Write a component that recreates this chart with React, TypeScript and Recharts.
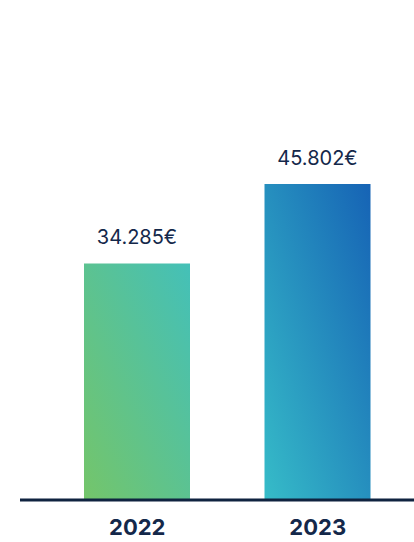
import React from "react";
import { BarChart, Bar, XAxis, YAxis, Cell, LabelList } from "recharts";

const years = ["2022", "2023"];
const values = [34285, 45802];
const valueLabels = ["34.285€", "45.802€"];
const gradients = [
  ["#74c56a", "#44c0b8"],
  ["#36bcc8", "#1663b5"],
];

const data = years.map((y, i) => ({ year: y, value: values[i], label: valueLabels[i] }));

const NAVY = "#14284a";

const YearTick = (props: any) => {
  const { x, y, payload } = props;
  return (
    <text x={x} y={y + 27} textAnchor="middle" fill={NAVY} fontFamily="Inter, 'Noto Sans', sans-serif" fontWeight={700} fontSize={22}>
      {payload.value}
    </text>
  );
};

const ValueLabel = (props: any) => {
  const { x, y, width, index } = props;
  return (
    <text x={x + width / 2} y={y - 19} textAnchor="middle" fill={NAVY} fontFamily="Inter, 'Noto Sans', sans-serif" fontWeight={400} fontSize={20}>
      {valueLabels[index]}
    </text>
  );
};

export default function App() {
  return (
    <div style={{ position: "absolute", left: 0, top: 0, width: 414, height: 542, background: "#fff" }}>
      <BarChart width={414} height={542} data={data} margin={{ top: 86, right: 0, bottom: 0, left: 20 }}>
        <defs>
          {gradients.map((g, i) => (
            <linearGradient key={i} id={`grad${i}`} x1="0" y1="1" x2="1" y2="0">
              <stop offset="0%" stopColor={g[0]} />
              <stop offset="100%" stopColor={g[1]} />
            </linearGradient>
          ))}
        </defs>
        <YAxis hide domain={[0, 60000]} />
        <XAxis
          dataKey="year"
          height={42}
          padding={{ left: 27, right: 6 }}
          axisLine={{ stroke: "#0f2340", strokeWidth: 3 }}
          tickLine={false}
          tick={<YearTick />}
        />
        <Bar dataKey="value" barSize={106} isAnimationActive={false}>
          {data.map((_, i) => (
            <Cell key={i} fill={`url(#grad${i})`} />
          ))}
          <LabelList dataKey="label" content={<ValueLabel />} />
        </Bar>
      </BarChart>
    </div>
  );
}
